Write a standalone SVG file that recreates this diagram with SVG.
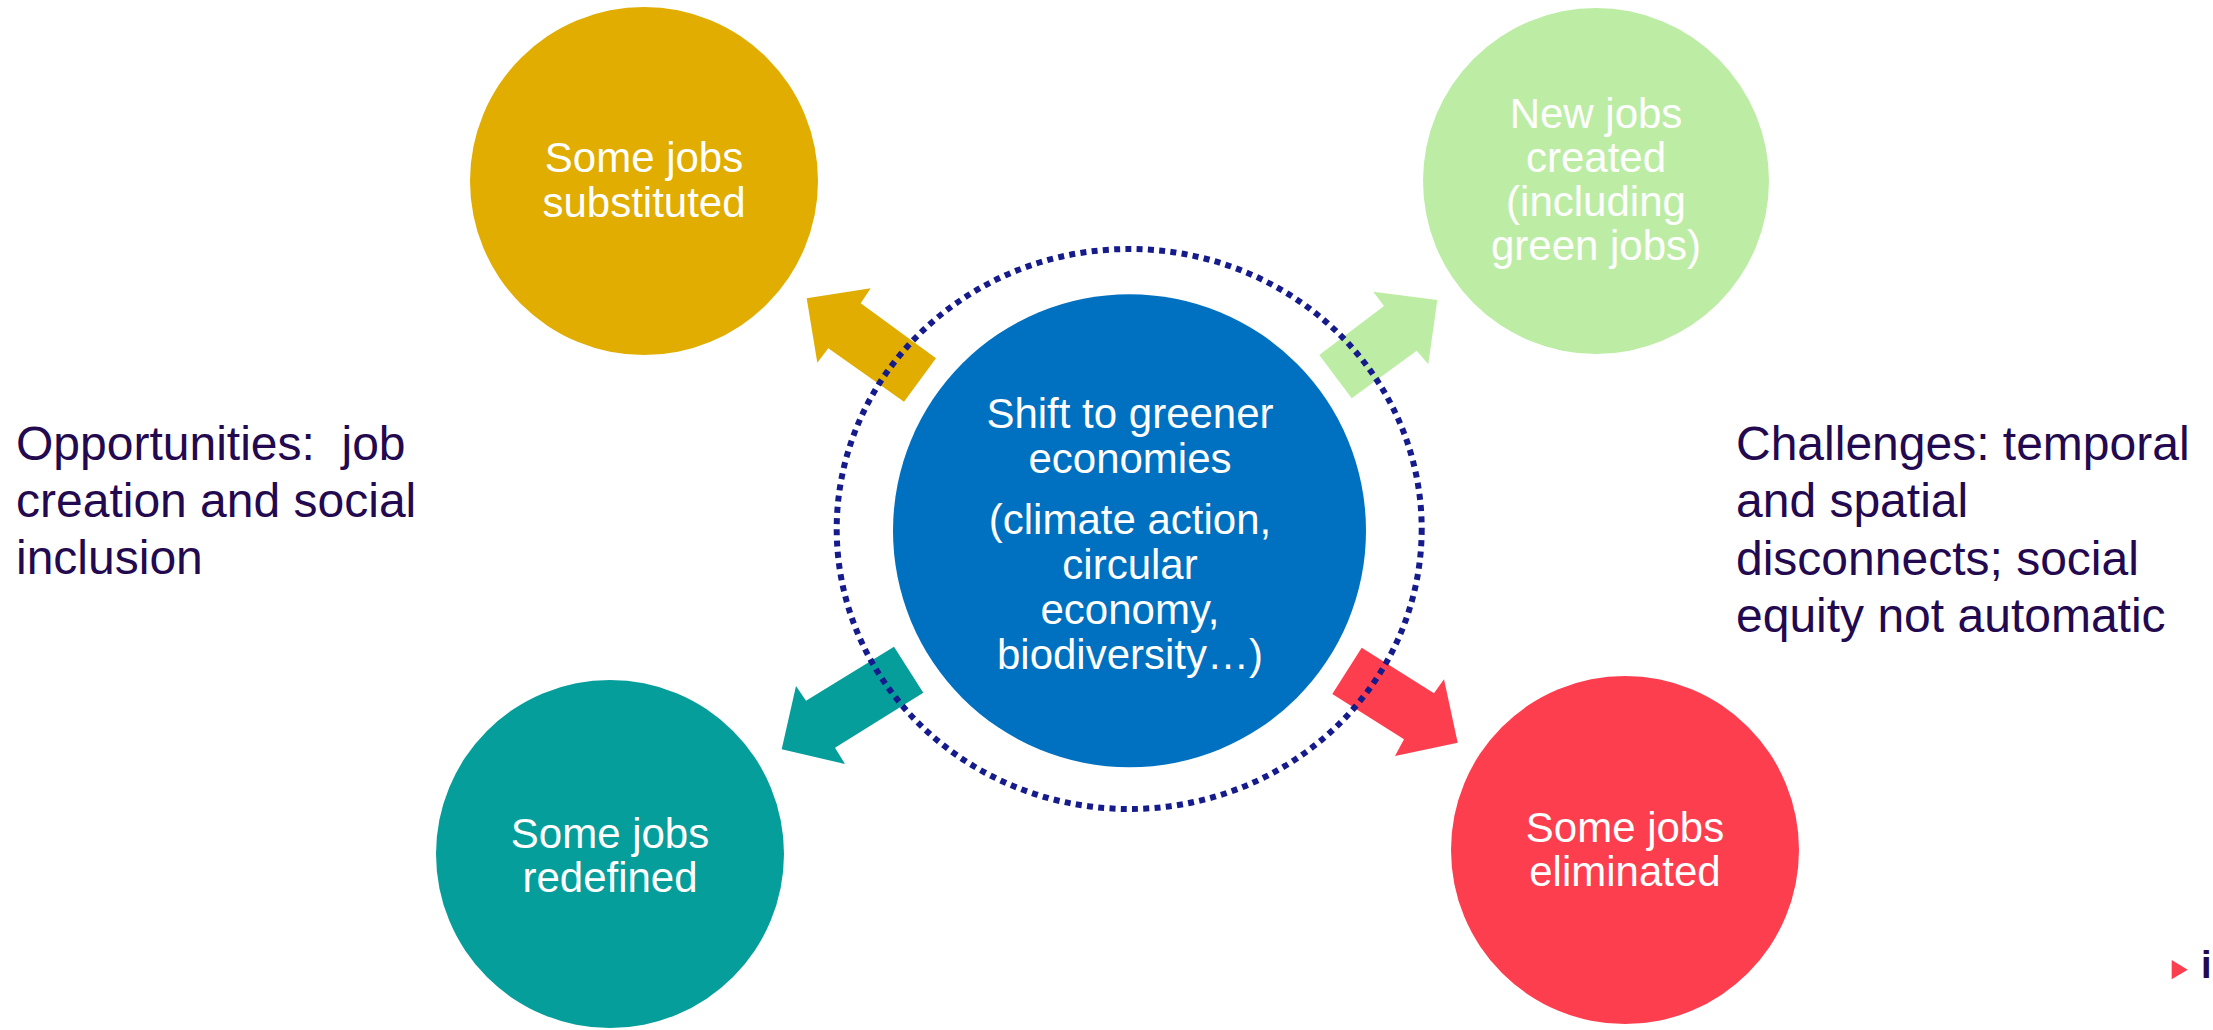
<svg xmlns="http://www.w3.org/2000/svg" width="2213" height="1030" viewBox="0 0 2213 1030">
<style>
.node-text{font-family:"Liberation Sans",Arial,sans-serif;font-size:42px;fill:#ffffff;text-anchor:middle}
.side-text{font-family:"Liberation Sans",Arial,sans-serif;font-size:48px;fill:#23094f}
</style>
<rect width="2213" height="1030" fill="#ffffff"/>
<g id="node-substituted">
<circle cx="644" cy="181" r="174" fill="#e0ad00"/>
<text class="node-text"><tspan x="644" y="172">Some jobs</tspan><tspan x="644" y="217">substituted</tspan></text>
</g>
<g id="node-created">
<circle cx="1596" cy="181" r="173" fill="#bdeda5"/>
<text class="node-text"><tspan x="1596" y="128">New jobs</tspan><tspan x="1596" y="172">created</tspan><tspan x="1596" y="216">(including</tspan><tspan x="1596" y="260">green jobs)</tspan></text>
</g>
<g id="node-redefined">
<circle cx="610" cy="854" r="174" fill="#069e9b"/>
<text class="node-text"><tspan x="610" y="848">Some jobs</tspan><tspan x="610" y="892">redefined</tspan></text>
</g>
<g id="node-eliminated">
<circle cx="1625" cy="850" r="174" fill="#fd3e4e"/>
<text class="node-text"><tspan x="1625" y="842">Some jobs</tspan><tspan x="1625" y="886">eliminated</tspan></text>
</g>
<g id="node-center">
<circle cx="1129.5" cy="530.7" r="236.5" fill="#0070c0"/>
<text class="node-text"><tspan x="1130" y="428">Shift to greener</tspan><tspan x="1130" y="473">economies</tspan><tspan x="1130" y="534">(climate action,</tspan><tspan x="1130" y="579">circular</tspan><tspan x="1130" y="624">economy,</tspan><tspan x="1130" y="669">biodiversity…)</tspan></text>
</g>
<g id="connectors">
<polygon points="806.7,298.3 870.7,288.3 860.7,303.3 936,358.3 904,401.7 828.3,348.3 817.3,362.7" fill="#e0ad00"/>
<polygon points="1437.3,300 1373.3,291.7 1384,306 1319.3,355 1351.7,398.3 1416.7,350.7 1428.3,364.3" fill="#bdeda5"/>
<polygon points="781.7,749.3 796,686 806,700.7 894,646.7 923.3,692.7 835,747.7 845,764" fill="#069e9b"/>
<polygon points="1457.7,742.7 1444,679.3 1434,693.3 1361.7,647.7 1332.3,694 1404,739.3 1395,756" fill="#fd3e4e"/>
</g>
<g id="ring">
<ellipse cx="1129.2" cy="529" rx="292.5" ry="280" fill="none" stroke="#161b8c" stroke-width="6" stroke-dasharray="6 5.3"/>
</g>
<g id="label-opportunities">
<text class="side-text"><tspan x="16" y="460">Opportunities:&#160; job</tspan><tspan x="16" y="517">creation and social</tspan><tspan x="16" y="574">inclusion</tspan></text>
</g>
<g id="label-challenges">
<text class="side-text"><tspan x="1736" y="460">Challenges: temporal</tspan><tspan x="1736" y="517">and spatial</tspan><tspan x="1736" y="575">disconnects; social</tspan><tspan x="1736" y="632">equity not automatic</tspan></text>
</g>
<g id="logo">
<polygon points="2171.7,960 2187.7,969.7 2171.7,979.3" fill="#fd3e4e"/>
<text x="2201" y="978" font-family="'Liberation Sans',Arial,sans-serif" font-size="38" font-weight="bold" fill="#23094f">i</text>
</g>
</svg>
